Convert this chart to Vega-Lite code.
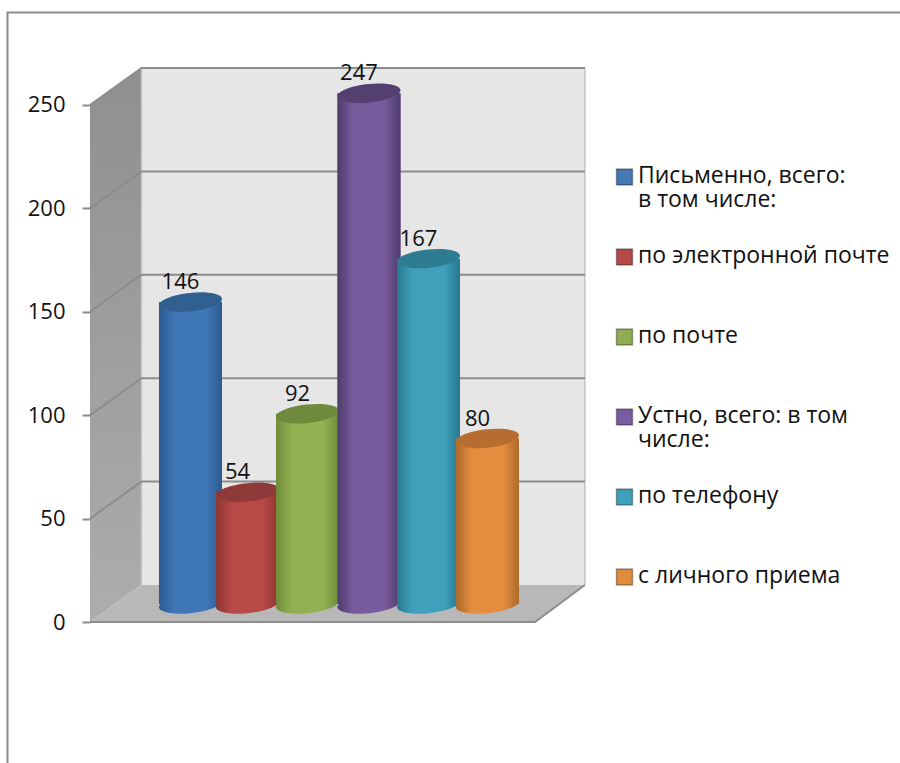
{
"$schema":"https://vega.github.io/schema/vega-lite/v6.json",
"width":900,"height":763,"padding":0,"autosize":{"type":"none"},
"background":"white",
"config":{"view":{"stroke":null},"font":"Open Sans"},
"datasets":{
"bars":[
{"category":"Письменно, всего: в том числе:","y":146,"x":1},
{"category":"по электронной почте","y":54,"x":1.96},
{"category":"по почте","y":92,"x":2.97},
{"category":"Устно, всего: в том числе:","y":247,"x":4.005},
{"category":"по телефону","y":167,"x":5.007},
{"category":"с личного приема","y":80,"x":6}
],
"lines":[
{"g":"frame","i":0,"x":-2.081,"y":-68.2},{"g":"frame","i":1,"x":-2.081,"y":294.7},{"g":"frame","i":2,"x":12.945,"y":294.7},
{"g":"g50","i":0,"x":-0.692,"y":50},{"g":"g50","i":1,"x":0.175,"y":67.9},{"g":"g50","i":2,"x":7.64,"y":67.9},
{"g":"g100","i":0,"x":-0.692,"y":100},{"g":"g100","i":1,"x":0.175,"y":117.9},{"g":"g100","i":2,"x":7.64,"y":117.9},
{"g":"g150","i":0,"x":-0.692,"y":150},{"g":"g150","i":1,"x":0.175,"y":167.9},{"g":"g150","i":2,"x":7.64,"y":167.9},
{"g":"g200","i":0,"x":-0.692,"y":200},{"g":"g200","i":1,"x":0.175,"y":217.9},{"g":"g200","i":2,"x":7.64,"y":217.9},
{"g":"g250","i":0,"x":-0.692,"y":250},{"g":"g250","i":1,"x":0.175,"y":267.9},{"g":"g250","i":2,"x":7.64,"y":267.9},
{"g":"front","i":0,"x":-0.692,"y":0},{"g":"front","i":1,"x":6.8,"y":0},{"g":"front","i":2,"x":7.64,"y":17.9}
]
},
"encoding":{
 "x":{"field":"x","type":"quantitative","axis":null,"scale":{"domain":[-2.207,12.945],"nice":false,"zero":false,"padding":0}},
 "y":{"field":"y","type":"quantitative","stack":false,"scale":{"domain":[-68.18,300.77],"nice":false,"zero":false},
   "axis":{"values":[0,50,100,150,200,250],"offset":-90,"domain":false,"grid":false,"tickSize":8,"tickWidth":2,"tickColor":"#8c8c8c","labelFontSize":22,"labelPadding":17,"title":null,"labelFont":"Open Sans","labelColor":"#111111"}}
},
"layer":[
{"data":{"values":[{"x":0.175,"y":17.9,"y2":267.9},{"x":7.64,"y":17.9,"y2":267.9}]},
 "mark":{"type":"area","color":"#e6e6e6"},
 "encoding":{"y2":{"field":"y2"}}},
{"data":{"values":[{"x":-0.692,"y":0,"y2":250},{"x":0.175,"y":17.9,"y2":267.9}]},
 "mark":{"type":"area","color":{"gradient":"linear","x1":0,"x2":0,"y1":0,"y2":1,"stops":[{"offset":0,"color":"#8f8f8f"},{"offset":1,"color":"#adadad"}]}},
 "encoding":{"y2":{"field":"y2"}}},
{"data":{"values":[{"x":-0.692,"y":0,"y2":0},{"x":0.175,"y":0,"y2":17.9},{"x":6.8,"y":0,"y2":17.9},{"x":7.64,"y":17.9,"y2":17.9}]},
 "mark":{"type":"area","color":"#b8b8b8"},
 "encoding":{"y2":{"field":"y2"}}},
{"data":{"values":[{"g":"l","i":0,"x":0.175,"y":17.9},{"g":"l","i":1,"x":0.175,"y":267.9},{"g":"r","i":0,"x":7.64,"y":17.9},{"g":"r","i":1,"x":7.64,"y":267.9}]},
 "mark":{"type":"line","color":"#c4c4c4","strokeWidth":1.5},
 "encoding":{"detail":{"field":"g"},"order":{"field":"i"}}},
{"data":{"name":"lines"},
 "mark":{"type":"line","color":"#8c8c8c","strokeWidth":2},
 "encoding":{"detail":{"field":"g"},"order":{"field":"i"}}},
{"data":{"name":"bars"},
 "mark":{"type":"bar","orient":"vertical","size":63,"yOffset":-18},
 "encoding":{
  "y2":{"datum":8.7},
  "color":{"field":"category","type":"nominal","sort":null,
   "scale":{"domain":["Письменно, всего: в том числе:","по электронной почте","по почте","Устно, всего: в том числе:","по телефону","с личного приема"],
    "range":["#4379b5","#b54b48","#8fae53","#7a5da0","#40a0bb","#e08c3e"]},
   "legend":{"orient":"none","legendX":613,"legendY":165,"title":null,"symbolType":"square","symbolSize":256,"symbolStrokeWidth":1.5,"symbolStrokeColor":"#00000055","symbolOpacity":1,
     "labelFont":"Open Sans","labelFontSize":23,"labelColor":"#111111","labelLimit":320,"labelOffset":2,"gridAlign":"all","rowPadding":33,"clipHeight":24,
     "labelBaseline":"top",
     "labelExpr":"datum.label=='Письменно, всего: в том числе:'?['Письменно, всего:','в том числе:']:datum.label=='Устно, всего: в том числе:'?['Устно, всего: в том','числе:']:datum.label",
     "encode":{"labels":{"update":{"lineHeight":{"value":24},"dy":{"value":-12}}}}}}}},
{"data":{"name":"bars"},"transform":[{"filter":"datum.category=='Письменно, всего: в том числе:'"}],
 "layer":[
 {"mark":{"type":"point","filled":true,"opacity":1,"size":3969,"yOffset":-18,"shape":"M-1,0.1 A1,0.29,-6,1,1,1,-0.1 A1,0.29,-6,1,1,-1,0.1 Z","fill":{"gradient":"linear","x1":0,"x2":1,"y1":0,"y2":0,"stops":[{"offset":0,"color":"#2c5a8f"},{"offset":0.25,"color":"#3f77b7"},{"offset":0.75,"color":"#3f77b7"},{"offset":1,"color":"#2c5a8f"}]}},"encoding":{"y":{"datum":0,"type":"quantitative"}}},
 {"mark":{"type":"bar","orient":"vertical","size":63,"yOffset":-18,"fill":{"gradient":"linear","x1":0,"x2":1,"y1":0,"y2":0,"stops":[{"offset":0,"color":"#2c5a8f"},{"offset":0.25,"color":"#3f77b7"},{"offset":0.75,"color":"#3f77b7"},{"offset":1,"color":"#2c5a8f"}]}},"encoding":{"y2":{"datum":8.7}}},
 {"mark":{"type":"point","filled":true,"opacity":1,"size":3969,"yOffset":-18,"shape":"M-1,0.1 A1,0.29,-6,1,1,1,-0.1 A1,0.29,-6,1,1,-1,0.1 Z","fill":"#305f90"}}
 ]},
{"data":{"name":"bars"},"transform":[{"filter":"datum.category=='по электронной почте'"}],
 "layer":[
 {"mark":{"type":"point","filled":true,"opacity":1,"size":3969,"yOffset":-18,"shape":"M-1,0.1 A1,0.29,-6,1,1,1,-0.1 A1,0.29,-6,1,1,-1,0.1 Z","fill":{"gradient":"linear","x1":0,"x2":1,"y1":0,"y2":0,"stops":[{"offset":0,"color":"#8e3532"},{"offset":0.25,"color":"#b84947"},{"offset":0.75,"color":"#b84947"},{"offset":1,"color":"#8e3532"}]}},"encoding":{"y":{"datum":0,"type":"quantitative"}}},
 {"mark":{"type":"bar","orient":"vertical","size":63,"yOffset":-18,"fill":{"gradient":"linear","x1":0,"x2":1,"y1":0,"y2":0,"stops":[{"offset":0,"color":"#8e3532"},{"offset":0.25,"color":"#b84947"},{"offset":0.75,"color":"#b84947"},{"offset":1,"color":"#8e3532"}]}},"encoding":{"y2":{"datum":8.7}}},
 {"mark":{"type":"point","filled":true,"opacity":1,"size":3969,"yOffset":-18,"shape":"M-1,0.1 A1,0.29,-6,1,1,1,-0.1 A1,0.29,-6,1,1,-1,0.1 Z","fill":"#8f3a38"}}
 ]},
{"data":{"name":"bars"},"transform":[{"filter":"datum.category=='по почте'"}],
 "layer":[
 {"mark":{"type":"point","filled":true,"opacity":1,"size":3969,"yOffset":-18,"shape":"M-1,0.1 A1,0.29,-6,1,1,1,-0.1 A1,0.29,-6,1,1,-1,0.1 Z","fill":{"gradient":"linear","x1":0,"x2":1,"y1":0,"y2":0,"stops":[{"offset":0,"color":"#6e8b39"},{"offset":0.25,"color":"#92b152"},{"offset":0.75,"color":"#92b152"},{"offset":1,"color":"#6e8b39"}]}},"encoding":{"y":{"datum":0,"type":"quantitative"}}},
 {"mark":{"type":"bar","orient":"vertical","size":63,"yOffset":-18,"fill":{"gradient":"linear","x1":0,"x2":1,"y1":0,"y2":0,"stops":[{"offset":0,"color":"#6e8b39"},{"offset":0.25,"color":"#92b152"},{"offset":0.75,"color":"#92b152"},{"offset":1,"color":"#6e8b39"}]}},"encoding":{"y2":{"datum":8.7}}},
 {"mark":{"type":"point","filled":true,"opacity":1,"size":3969,"yOffset":-18,"shape":"M-1,0.1 A1,0.29,-6,1,1,1,-0.1 A1,0.29,-6,1,1,-1,0.1 Z","fill":"#6f8a3d"}}
 ]},
{"data":{"name":"bars"},"transform":[{"filter":"datum.category=='Устно, всего: в том числе:'"}],
 "layer":[
 {"mark":{"type":"point","filled":true,"opacity":1,"size":3969,"yOffset":-18,"shape":"M-1,0.1 A1,0.29,-6,1,1,1,-0.1 A1,0.29,-6,1,1,-1,0.1 Z","fill":{"gradient":"linear","x1":0,"x2":1,"y1":0,"y2":0,"stops":[{"offset":0,"color":"#4e3c6c"},{"offset":0.25,"color":"#785b9c"},{"offset":0.75,"color":"#785b9c"},{"offset":1,"color":"#4e3c6c"}]}},"encoding":{"y":{"datum":0,"type":"quantitative"}}},
 {"mark":{"type":"bar","orient":"vertical","size":63,"yOffset":-18,"fill":{"gradient":"linear","x1":0,"x2":1,"y1":0,"y2":0,"stops":[{"offset":0,"color":"#4e3c6c"},{"offset":0.25,"color":"#785b9c"},{"offset":0.75,"color":"#785b9c"},{"offset":1,"color":"#4e3c6c"}]}},"encoding":{"y2":{"datum":8.7}}},
 {"mark":{"type":"point","filled":true,"opacity":1,"size":3969,"yOffset":-18,"shape":"M-1,0.1 A1,0.29,-6,1,1,1,-0.1 A1,0.29,-6,1,1,-1,0.1 Z","fill":"#533f70"}}
 ]},
{"data":{"name":"bars"},"transform":[{"filter":"datum.category=='по телефону'"}],
 "layer":[
 {"mark":{"type":"point","filled":true,"opacity":1,"size":3969,"yOffset":-18,"shape":"M-1,0.1 A1,0.29,-6,1,1,1,-0.1 A1,0.29,-6,1,1,-1,0.1 Z","fill":{"gradient":"linear","x1":0,"x2":1,"y1":0,"y2":0,"stops":[{"offset":0,"color":"#27788f"},{"offset":0.25,"color":"#40a0bb"},{"offset":0.75,"color":"#40a0bb"},{"offset":1,"color":"#27788f"}]}},"encoding":{"y":{"datum":0,"type":"quantitative"}}},
 {"mark":{"type":"bar","orient":"vertical","size":63,"yOffset":-18,"fill":{"gradient":"linear","x1":0,"x2":1,"y1":0,"y2":0,"stops":[{"offset":0,"color":"#27788f"},{"offset":0.25,"color":"#40a0bb"},{"offset":0.75,"color":"#40a0bb"},{"offset":1,"color":"#27788f"}]}},"encoding":{"y2":{"datum":8.7}}},
 {"mark":{"type":"point","filled":true,"opacity":1,"size":3969,"yOffset":-18,"shape":"M-1,0.1 A1,0.29,-6,1,1,1,-0.1 A1,0.29,-6,1,1,-1,0.1 Z","fill":"#2e7c92"}}
 ]},
{"data":{"name":"bars"},"transform":[{"filter":"datum.category=='с личного приема'"}],
 "layer":[
 {"mark":{"type":"point","filled":true,"opacity":1,"size":3969,"yOffset":-18,"shape":"M-1,0.1 A1,0.29,-6,1,1,1,-0.1 A1,0.29,-6,1,1,-1,0.1 Z","fill":{"gradient":"linear","x1":0,"x2":1,"y1":0,"y2":0,"stops":[{"offset":0,"color":"#ad6a2a"},{"offset":0.25,"color":"#e48d3e"},{"offset":0.75,"color":"#e48d3e"},{"offset":1,"color":"#ad6a2a"}]}},"encoding":{"y":{"datum":0,"type":"quantitative"}}},
 {"mark":{"type":"bar","orient":"vertical","size":63,"yOffset":-18,"fill":{"gradient":"linear","x1":0,"x2":1,"y1":0,"y2":0,"stops":[{"offset":0,"color":"#ad6a2a"},{"offset":0.25,"color":"#e48d3e"},{"offset":0.75,"color":"#e48d3e"},{"offset":1,"color":"#ad6a2a"}]}},"encoding":{"y2":{"datum":8.7}}},
 {"mark":{"type":"point","filled":true,"opacity":1,"size":3969,"yOffset":-18,"shape":"M-1,0.1 A1,0.29,-6,1,1,1,-0.1 A1,0.29,-6,1,1,-1,0.1 Z","fill":"#b76d2f"}}
 ]},
{"data":{"name":"bars"},
 "mark":{"type":"text","font":"Open Sans","fontSize":22,"color":"#111111","dx":-10,"dy":-38},
 "encoding":{"text":{"field":"y","type":"quantitative"}}}
]
}
